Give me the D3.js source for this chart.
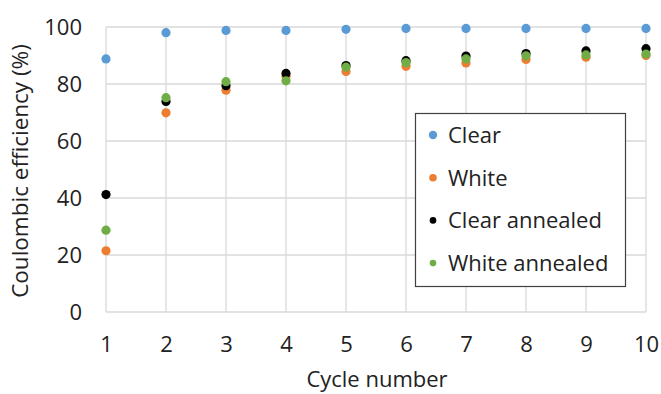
<!DOCTYPE html>
<html>
<head>
<meta charset="utf-8">
<script src="https://cdn.jsdelivr.net/npm/d3@7"></script>
<style>
  html, body { margin: 0; padding: 0; background: #fff; }
  svg { display: block; }
  text { font-family: "Open Sans", "Noto Sans", sans-serif; fill: #222; }
</style>
</head>
<body>
<svg id="chart" width="661" height="394"></svg>
<script>
// Coulombic efficiency per cycle for each sample
const cycles = [1, 2, 3, 4, 5, 6, 7, 8, 9, 10];
const clear          = [88.8, 98.0, 98.8, 98.8, 99.2, 99.5, 99.5, 99.5, 99.5, 99.5];
const white          = [21.5, 69.9, 77.8, 82.6, 84.4, 86.2, 87.4, 88.6, 89.4, 90.0];
const clearAnnealed  = [41.2, 73.9, 79.4, 83.7, 86.5, 88.2, 89.8, 90.7, 91.6, 92.4];
const whiteAnnealed  = [28.7, 75.2, 80.8, 81.1, 85.9, 87.5, 88.8, 89.9, 90.2, 90.5];
const yTicks = [0, 20, 40, 60, 80, 100];

const seriesNames  = ["Clear", "White", "Clear annealed", "White annealed"];
const seriesValues = [clear, white, clearAnnealed, whiteAnnealed];
const seriesColors = ["#5b9bd5", "#ed7d31", "#000000", "#70ad47"];
const legendRadius = [4.2, 3.8, 3.3, 3.3];

const svg = d3.select("#chart");
const plot = { left: 106, right: 646, top: 27, bottom: 312 };

const x = d3.scaleLinear().domain([1, 10]).range([plot.left, plot.right]);
const y = d3.scaleLinear().domain([0, 100]).range([plot.bottom, plot.top]);

// gridlines
const grid = svg.append("g");
grid.selectAll("line.h").data(yTicks).join("line")
  .attr("x1", plot.left).attr("x2", plot.right)
  .attr("y1", d => y(d)).attr("y2", d => y(d))
  .attr("stroke", "#d9d9d9").attr("stroke-width", 1.3);
grid.selectAll("line.v").data(cycles).join("line")
  .attr("y1", plot.top).attr("y2", plot.bottom)
  .attr("x1", d => x(d)).attr("x2", d => x(d))
  .attr("stroke", "#d9d9d9").attr("stroke-width", 1.3);

// axes (labels only; lines come from the grid)
const yAxis = svg.append("g")
  .attr("transform", `translate(${plot.left},0)`)
  .call(d3.axisLeft(y).tickValues(yTicks).tickSize(0).tickPadding(24));
yAxis.select(".domain").remove();
yAxis.selectAll("text").style("font-size", "22px").attr("fill", "#222").attr("dy", "0.36em");

const xAxis = svg.append("g")
  .attr("transform", `translate(0,${plot.bottom})`)
  .call(d3.axisBottom(x).tickValues(cycles).tickFormat(d3.format("d")).tickSize(0).tickPadding(24));
xAxis.select(".domain").remove();
xAxis.selectAll("text").style("font-size", "22px").attr("fill", "#222");

// data points
seriesValues.forEach((vals, i) => {
  svg.append("g").selectAll("circle")
    .data(cycles.map((c, j) => ({ c, v: vals[j] })))
    .join("circle")
    .attr("cx", d => x(d.c))
    .attr("cy", d => y(d.v))
    .attr("r", 4.6)
    .attr("fill", seriesColors[i]);
});

// axis titles
svg.append("text")
  .attr("x", (plot.left + plot.right) / 2 + 1)
  .attr("y", 387)
  .attr("text-anchor", "middle")
  .style("font-size", "22px")
  .text("Cycle number");

svg.append("text")
  .attr("transform", "translate(28,171) rotate(-90)")
  .attr("text-anchor", "middle")
  .style("font-size", "22.5px")
  .text("Coulombic efficiency (%)");

// legend
const legend = svg.append("g");
legend.append("rect")
  .attr("x", 415.5).attr("y", 113.5)
  .attr("width", 210).attr("height", 173)
  .attr("fill", "#fff").attr("stroke", "#404040").attr("stroke-width", 1.2);
const rows = legend.selectAll("g.row").data(seriesNames).join("g")
  .attr("transform", (d, i) => `translate(433,${135 + i * 42.7})`);
rows.append("circle")
  .attr("r", (d, i) => legendRadius[i])
  .attr("fill", (d, i) => seriesColors[i]);
rows.append("text")
  .attr("x", 15).attr("dy", "0.36em")
  .style("font-size", "22px")
  .text(d => d);
</script>
</body>
</html>
